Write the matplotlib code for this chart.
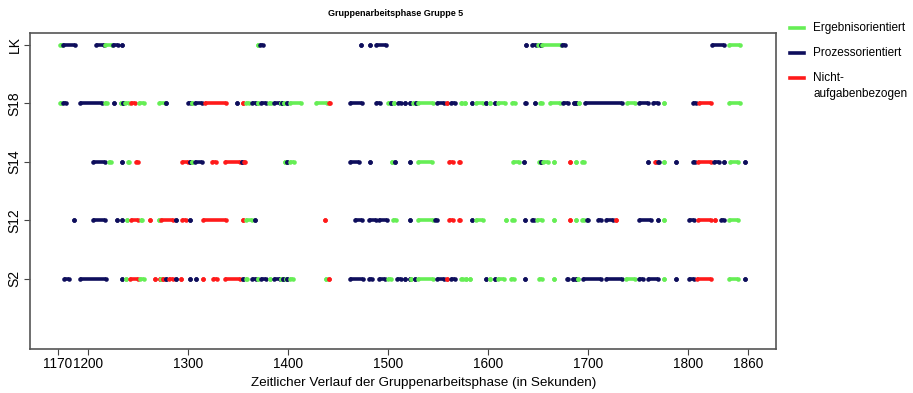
import matplotlib
matplotlib.use("Agg")
import matplotlib.pyplot as plt
from matplotlib.lines import Line2D

# ---------------- data ----------------
# intervals in seconds: (start, end, code)  E=Ergebnisorientiert, P=Prozessorientiert, N=Nicht-aufgabenbezogen
rows = ["S2", "S12", "S14", "S18", "LK"]

LK = [(1172, 1174, "E"), (1175, 1187, "P"), (1208, 1216, "P"), (1217, 1224, "E"), (1225, 1230, "P"),
      (1234, 1234, "P"), (1370, 1370, "E"), (1372, 1375, "P"), (1473, 1473, "P"), (1482, 1482, "P"),
      (1488, 1498, "P"), (1638, 1638, "P"), (1644, 1648, "P"), (1650, 1652, "E"), (1653, 1653, "P"),
      (1654, 1673, "E"), (1674, 1677, "P"), (1824, 1836, "P"), (1841, 1852, "E")]

S18 = [(1172, 1173, "E"), (1175, 1178, "P"), (1192, 1214, "P"), (1217, 1219, "E"), (1226, 1226, "P"),
       (1233, 1233, "E"), (1235, 1235, "P"), (1237, 1241, "E"), (1243, 1247, "N"), (1251, 1256, "E"),
       (1271, 1277, "E"), (1278, 1278, "P"), (1300, 1303, "P"), (1304, 1304, "E"), (1307, 1314, "P"),
       (1317, 1338, "N"), (1349, 1349, "P"), (1355, 1355, "N"), (1358, 1361, "E"), (1364, 1368, "P"),
       (1370, 1370, "E"), (1373, 1378, "P"), (1381, 1383, "E"), (1386, 1392, "P"), (1393, 1393, "E"),
       (1394, 1394, "P"), (1396, 1396, "E"), (1399, 1399, "P"), (1402, 1413, "E"), (1428, 1439, "E"),
       (1441, 1442, "N"), (1462, 1474, "P"), (1488, 1492, "P"), (1500, 1502, "E"), (1503, 1503, "P"),
       (1506, 1506, "E"), (1510, 1513, "P"), (1517, 1517, "P"), (1522, 1522, "P"), (1525, 1527, "E"),
       (1528, 1528, "P"), (1530, 1545, "E"), (1549, 1556, "P"), (1559, 1559, "N"), (1563, 1567, "P"),
       (1573, 1574, "E"), (1577, 1577, "E"), (1584, 1584, "P"), (1588, 1595, "E"), (1598, 1598, "P"),
       (1602, 1602, "E"), (1607, 1607, "P"), (1610, 1617, "E"), (1624, 1627, "E"), (1637, 1638, "P"),
       (1647, 1647, "P"), (1652, 1654, "E"), (1662, 1672, "E"), (1675, 1680, "P"), (1686, 1686, "P"),
       (1688, 1688, "P"), (1691, 1691, "E"), (1697, 1734, "P"), (1739, 1747, "E"), (1751, 1760, "P"),
       (1765, 1770, "P"), (1776, 1776, "E"), (1805, 1808, "P"), (1811, 1823, "N"), (1841, 1852, "E")]

S14 = [(1205, 1217, "P"), (1221, 1223, "E"), (1234, 1234, "P"), (1240, 1241, "E"), (1248, 1250, "N"),
       (1294, 1300, "N"), (1302, 1302, "P"), (1304, 1304, "E"), (1307, 1314, "P"), (1324, 1328, "N"),
       (1337, 1352, "N"), (1354, 1354, "P"), (1356, 1357, "N"), (1397, 1397, "E"), (1399, 1399, "P"),
       (1402, 1406, "E"), (1462, 1471, "P"), (1482, 1482, "P"), (1504, 1504, "E"), (1507, 1507, "P"),
       (1522, 1522, "P"), (1530, 1544, "E"), (1561, 1565, "N"), (1571, 1572, "N"), (1625, 1631, "E"),
       (1636, 1636, "P"), (1651, 1652, "E"), (1653, 1653, "P"), (1655, 1660, "E"), (1666, 1666, "E"),
       (1682, 1682, "N"), (1688, 1688, "E"), (1694, 1696, "E"), (1760, 1760, "P"), (1767, 1768, "N"),
       (1770, 1771, "P"), (1776, 1776, "E"), (1788, 1788, "P"), (1805, 1807, "P"), (1810, 1823, "N"),
       (1826, 1831, "P"), (1836, 1836, "P"), (1842, 1850, "E"), (1857, 1857, "P")]

S12 = [(1186, 1186, "P"), (1205, 1217, "P"), (1229, 1229, "P"), (1234, 1234, "P"), (1239, 1239, "E"),
       (1243, 1250, "N"), (1253, 1254, "E"), (1262, 1262, "N"), (1271, 1271, "E"), (1273, 1285, "N"),
       (1288, 1288, "P"), (1294, 1298, "N"), (1302, 1302, "P"), (1315, 1338, "N"), (1355, 1355, "N"),
       (1358, 1364, "E"), (1367, 1367, "P"), (1437, 1437, "N"), (1467, 1474, "P"), (1481, 1488, "P"),
       (1491, 1499, "P"), (1505, 1508, "E"), (1522, 1522, "P"), (1530, 1545, "E"), (1547, 1549, "P"),
       (1561, 1565, "N"), (1571, 1572, "N"), (1584, 1584, "P"), (1588, 1595, "E"), (1618, 1618, "E"),
       (1624, 1626, "E"), (1637, 1637, "P"), (1644, 1646, "P"), (1649, 1654, "E"), (1666, 1666, "E"),
       (1682, 1682, "N"), (1688, 1688, "E"), (1694, 1696, "E"), (1699, 1700, "P"), (1710, 1713, "P"),
       (1718, 1725, "P"), (1728, 1728, "N"), (1751, 1763, "P"), (1770, 1770, "P"), (1776, 1776, "E"),
       (1801, 1806, "P"), (1810, 1823, "N"), (1827, 1827, "N"), (1833, 1836, "P"), (1841, 1850, "E")]

S2 = [(1176, 1181, "P"), (1192, 1218, "P"), (1234, 1234, "P"), (1238, 1238, "E"), (1242, 1250, "N"),
      (1252, 1256, "E"), (1267, 1267, "N"), (1272, 1272, "N"), (1273, 1273, "E"), (1275, 1275, "N"),
      (1278, 1278, "P"), (1281, 1285, "N"), (1288, 1288, "P"), (1293, 1293, "N"), (1302, 1302, "P"),
      (1308, 1308, "P"), (1315, 1315, "N"), (1325, 1329, "N"), (1337, 1352, "N"), (1355, 1355, "P"),
      (1358, 1359, "E"), (1364, 1368, "P"), (1370, 1370, "E"), (1373, 1378, "P"), (1382, 1382, "E"),
      (1386, 1392, "P"), (1393, 1393, "E"), (1395, 1395, "P"), (1398, 1398, "E"), (1399, 1399, "P"),
      (1402, 1405, "E"), (1438, 1438, "E"), (1441, 1441, "N"), (1462, 1475, "P"), (1481, 1484, "P"),
      (1491, 1497, "P"), (1500, 1503, "E"), (1509, 1513, "P"), (1517, 1517, "P"), (1522, 1522, "P"),
      (1523, 1523, "E"), (1527, 1527, "P"), (1530, 1545, "E"), (1549, 1556, "P"), (1559, 1559, "N"),
      (1563, 1567, "P"), (1573, 1575, "E"), (1578, 1578, "E"), (1582, 1582, "E"), (1598, 1598, "P"),
      (1602, 1602, "E"), (1607, 1607, "P"), (1610, 1616, "E"), (1623, 1626, "E"), (1637, 1637, "P"),
      (1651, 1654, "E"), (1666, 1666, "E"), (1679, 1680, "P"), (1685, 1685, "P"), (1688, 1688, "P"),
      (1690, 1690, "E"), (1695, 1713, "P"), (1718, 1734, "P"), (1738, 1747, "E"), (1751, 1755, "P"),
      (1760, 1770, "P"), (1776, 1776, "E"), (1788, 1788, "P"), (1801, 1806, "P"), (1809, 1823, "N"),
      (1841, 1850, "E"), (1857, 1857, "P")]

row_data = {"S2": S2, "S12": S12, "S14": S14, "S18": S18, "LK": LK}

x_ticks = [1170, 1200, 1300, 1400, 1500, 1600, 1700, 1800, 1860]
labels = {"E": "Ergebnisorientiert", "P": "Prozessorientiert", "N": "Nicht-\naufgabenbezogen"}
colors = {"E": "#66EE55", "P": "#0E0E5C", "N": "#FF1A1A"}

# ---------------- plot ----------------
W, H = 913, 393
fig = plt.figure(figsize=(W / 100, H / 100), dpi=100)
ax = fig.add_axes([30 / W, 1 - 349 / H, (776 - 30) / W, (349 - 33) / H])

lw = 2.6
ms = 3.3
for yi, name in enumerate(rows, start=1):
    for s, e, c in row_data[name]:
        ax.plot([s, e], [yi, yi], color=colors[c], lw=lw, solid_capstyle="butt",
                marker="o", markersize=ms, markeredgewidth=0, markerfacecolor=colors[c])

ax.set_xlim(1142.4, 1887.6)
ax.set_ylim(-0.2, 5.2)

tick_font = ["Liberation Sans", "DejaVu Sans"]
ax.set_xticks(x_ticks)
ax.set_xticklabels([str(v) for v in x_ticks], family=tick_font, fontsize=9.8)
ax.set_yticks(range(1, len(rows) + 1))
ax.set_yticklabels(rows, rotation=90, va="center", family=tick_font, fontsize=10)
ax.tick_params(axis="both", direction="out", length=4, width=0.8, color="#444444", pad=2)

for sp in ax.spines.values():
    sp.set_color("#555555")
    sp.set_linewidth(1.2)

fig.text(424 / W, 1 - 383 / H, "Zeitlicher Verlauf der Gruppenarbeitsphase (in Sekunden)",
         family=tick_font, fontsize=9.7, ha="center", va="center")
fig.text(396 / W, 1 - 13 / H, "Gruppenarbeitsphase Gruppe 5", family=tick_font,
         fontsize=6.5, fontweight="bold", ha="center", va="center")

# manual legend
leg_items = [("E", 28), ("P", 53), ("N", 78)]
for c, ypx in leg_items:
    fig.add_artist(Line2D([790 / W, 804 / W], [1 - ypx / H, 1 - ypx / H],
                          color=colors[c], lw=2.6, transform=fig.transFigure))
    fig.text(813 / W, 1 - (ypx - 6) / H, labels[c], family=tick_font, fontsize=8.5,
             ha="left", va="top", linespacing=1.45)

fig.savefig("out.png", dpi=100)
